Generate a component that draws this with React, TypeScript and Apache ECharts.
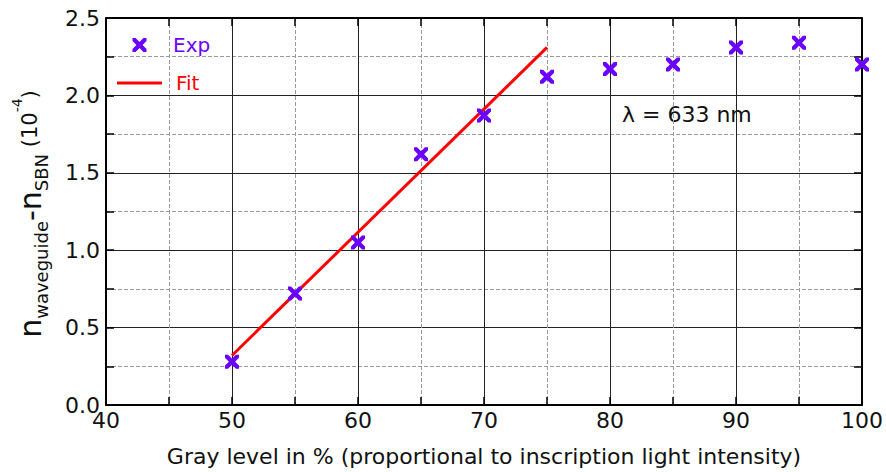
import React, { useEffect, useRef } from "react";
import * as echarts from "echarts";

const grayLevels = [50, 55, 60, 65, 70, 75, 80, 85, 90, 95, 100];
const expValues = [0.28, 0.72, 1.05, 1.62, 1.87, 2.12, 2.17, 2.2, 2.31, 2.34, 2.2];
const fitX = [50, 75];
const fitY = [0.32, 2.31];
const xTickMin = 40;
const xTickMax = 100;
const yTickMin = 0;
const yTickMax = 2.5;

const PURPLE = "#6a00ff";
const RED = "#ff0000";
const FONT = "DejaVu Sans";
const XSYM = "path://M0,0 L2.2,0 L5,2.8 L7.8,0 L10,0 L10,2.2 L7.2,5 L10,7.8 L10,10 L7.8,10 L5,7.2 L2.2,10 L0,10 L0,7.8 L2.8,5 L0,2.2 Z";
const LINEICON = "path://M0,0 L100,0 L100,7 L0,7 Z";

export default function App() {
  const ref = useRef<HTMLDivElement>(null);
  useEffect(() => {
    if (!ref.current) return;
    const chart = echarts.init(ref.current, undefined, { renderer: "svg" });
    const axisCommon = {
      axisLine: { show: true, onZero: false, lineStyle: { color: "#000", width: 2 } },
      axisTick: { show: true, inside: true, length: 8, lineStyle: { color: "#000", width: 1.5 } },
      minorTick: { show: true, splitNumber: 2, length: 8, lineStyle: { color: "#000", width: 1.5 } },
    };
    const option: any = {
      animation: false,
      grid: { left: 106, right: 23, top: 18, bottom: 67 },
      xAxis: [
        {
          type: "value",
          min: xTickMin,
          max: xTickMax,
          interval: 10,
          ...axisCommon,
          axisLabel: { color: "#111", fontSize: 22, fontFamily: FONT, margin: 4 },
          splitLine: { show: true, lineStyle: { color: "#222", width: 1 } },
          minorSplitLine: { show: true, lineStyle: { color: "#999", width: 1, type: [4, 2] } },
          name: "Gray level in % (proportional to inscription light intensity)",
          nameLocation: "middle",
          nameGap: 40,
          nameTextStyle: { color: "#111", fontSize: 22, fontFamily: FONT },
        },
        {
          type: "value",
          position: "top",
          min: xTickMin,
          max: xTickMax,
          interval: 10,
          ...axisCommon,
          axisLabel: { show: false },
          splitLine: { show: false },
        },
      ],
      yAxis: [
        {
          type: "value",
          min: yTickMin,
          max: yTickMax,
          interval: 0.5,
          ...axisCommon,
          axisLabel: { color: "#111", fontSize: 22, fontFamily: FONT, margin: 6, formatter: (v: number) => v.toFixed(1) },
          splitLine: { show: true, lineStyle: { color: "#222", width: 1 } },
          minorSplitLine: { show: true, lineStyle: { color: "#999", width: 1, type: [4, 2] } },
        },
        {
          type: "value",
          position: "right",
          min: yTickMin,
          max: yTickMax,
          interval: 0.5,
          ...axisCommon,
          axisLabel: { show: false },
          splitLine: { show: false },
        },
      ],
      legend: {
        orient: "vertical",
        left: 112,
        top: 30,
        itemWidth: 45,
        itemHeight: 14,
        itemGap: 18,
        textStyle: { fontSize: 20, fontFamily: FONT, padding: [0, 0, 0, 8] },
        data: [
          { name: "Exp", icon: XSYM, textStyle: { color: PURPLE, fontSize: 20, fontFamily: FONT, padding: [0, 0, 0, 6] } },
          { name: "Fit", icon: LINEICON, textStyle: { color: RED, fontSize: 20, fontFamily: FONT, padding: [0, 0, 0, 9] } },
        ],
      },
      series: [
        {
          name: "Fit",
          type: "line",
          data: fitX.map((x, i) => [x, fitY[i]]),
          symbol: "none",
          lineStyle: { color: RED, width: 3 },
          itemStyle: { color: RED },
          z: 2,
        },
        {
          name: "Exp",
          type: "scatter",
          data: grayLevels.map((x, i) => [x, expValues[i]]),
          symbol: XSYM,
          symbolSize: 14,
          itemStyle: { color: PURPLE, opacity: 1 },
          z: 3,
        },
      ],
      graphic: [
        {
          type: "text",
          left: 622,
          top: 103,
          style: { text: "λ = 633 nm", fontSize: 22, fontFamily: FONT, fill: "#111" },
        },
        {
          type: "text",
          x: 30,
          y: 214,
          rotation: Math.PI / 2,
          style: {
            text: "{n|n}{sub|waveguide}{n|-n}{sub|SBN}{p| (10}{sup|-4}{p|)}",
            align: "center",
            verticalAlign: "middle",
            fill: "#111",
            fontFamily: FONT,
            rich: {
              n: { fontSize: 30, fontFamily: FONT, fill: "#111", lineHeight: 40, verticalAlign: "middle" },
              sub: { fontSize: 18, fontFamily: FONT, fill: "#111", lineHeight: 40, verticalAlign: "bottom" },
              p: { fontSize: 21, fontFamily: FONT, fill: "#111", lineHeight: 40, verticalAlign: "middle" },
              sup: { fontSize: 14, fontFamily: FONT, fill: "#111", lineHeight: 40, verticalAlign: "top" },
            },
          },
        },
      ],
    };
    chart.setOption(option);
    return () => chart.dispose();
  }, []);
  return <div ref={ref} style={{ width: 886, height: 472, position: "absolute", left: 0, top: 0 }} />;
}
